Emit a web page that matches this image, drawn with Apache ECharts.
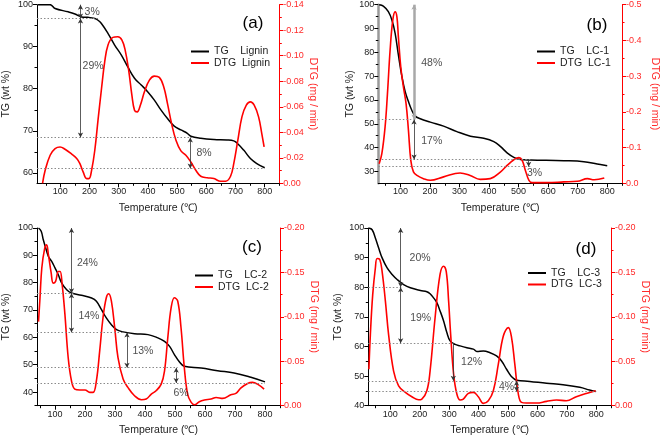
<!DOCTYPE html>
<html><head><meta charset="utf-8">
<script src="https://cdn.jsdelivr.net/npm/echarts@6/dist/echarts.min.js"></script>
<style>html,body{margin:0;padding:0;background:#fff}#c{width:661px;height:438px}</style>
</head><body><div id="c"></div>
<script>
// ---------- data ----------
const xTicks=[100,200,300,400,500,600,700,800];
const xMinor=[50,150,250,350,450,550,650,750,850];

// (a) Lignin
const aTgT=[23,65,82,127,150,173,195,218,229,240,263,286,309,331,354,377,399,422,445,467,490,513,535,547,581,626,671,694,705,728,751,773,800];
const aTg=[100,100,99.1,98.3,97.8,97.1,97.0,96.7,96.3,95.6,93.2,90.4,88.0,85.2,82.5,80.9,79.3,77.3,74.9,72.9,71.1,70.2,69.4,68.7,68.2,67.9,67.8,67.6,67.1,65.4,63.4,62.2,61.2];
const aDtgT=[39,48,65,82,99,116,139,156,167,178,190,198,207,218,229,241,252,263,280,297,311,322,334,345,354,363,374,388,405,422,439,454,467,481,496,513,530,547,564,581,603,626,649,666,683,694,708,722,737,751,764,779,790,798];
const aDtg=[0,-0.0102,-0.022,-0.0272,-0.0285,-0.0267,-0.0228,-0.0194,-0.0154,-0.0089,-0.0037,-0.0037,-0.0102,-0.0259,-0.0495,-0.0743,-0.0953,-0.1083,-0.1144,-0.1149,-0.1123,-0.1044,-0.0887,-0.0691,-0.0573,-0.056,-0.0612,-0.0717,-0.0809,-0.084,-0.083,-0.0757,-0.0625,-0.0468,-0.0338,-0.0254,-0.022,-0.0167,-0.0102,-0.0055,-0.0044,-0.0037,-0.0016,-0.0016,-0.0055,-0.0154,-0.0338,-0.0521,-0.0612,-0.0638,-0.0612,-0.0521,-0.039,-0.0285];
const aTgTicks=[60,70,80,90,100];
const aTgMinor=[65,75,85,95];
const aDots=[[96.7,230],[68.4,553],[61.0,800]];
const aArrows=[[169,100,96.7,'both'],[169,96.7,68.4,'both'],[545,68.4,61.0,'both']];
const aPcts=[['3%',209,98.3],['29%',212,85.5],['8%',592,64.6]];

// (b) LC-1
const bTgT=[28,42,59,71,82,93,105,116,127,138,150,167,201,246,291,337,382,416,439,461,484,506,540,653,721,766,800];
const bTg=[100,99.4,97.1,93.6,88,78.9,69.8,63.5,59.3,55.8,53.2,52.1,50.7,49.0,46.7,44.8,43.9,42.5,40.4,37.8,35.9,35.0,34.8,34.5,34.1,33.1,32.4];
const bDtgT=[28,37,48,56,65,74,82,88,93,101,110,119,127,135,144,156,178,201,246,302,336,370,404,439,461,484,501,512,523,535,546,597,653,699,733,756,790];
const bDtg=[-0.055,-0.083,-0.158,-0.251,-0.373,-0.457,-0.480,-0.466,-0.41,-0.326,-0.27,-0.223,-0.149,-0.064,-0.032,-0.022,-0.013,-0.0084,-0.018,-0.029,-0.022,-0.011,-0.013,-0.032,-0.050,-0.066,-0.072,-0.064,-0.036,-0.0084,-0.002,-0.002,-0.004,-0.0056,-0.013,-0.010,-0.015];
const bTgTicks=[30,40,50,60,70,80,90,100];
const bTgMinor=[35,45,55,65,75,85,95];
const bDots=[[51.8,145],[35.0,540],[32.0,540]];
const bArrows=[[146,100,51.8,'thick'],[146,51.8,35.0,'both'],[534,35.0,32.0,'down']];
const bPcts=[['48%',206,75.4],['17%',206,42.9],['3%',554,29.2]];

// (c) LC-2
const cTgT=[45,54,61,69,78,89,100,111,122,139,155,188,222,238,255,271,288,305,327,365,410,443,465,482,498,515,531,587,642,697,753,800];
const cTg=[100,98.8,95.7,92.7,89.6,87.8,85.4,82.9,79.9,77.4,76.2,75.4,74.4,73.2,70.1,67.1,64.6,62.8,62.0,61.3,61.0,59.8,58.5,56.7,53.7,51.0,49.4,48.8,47.8,47.0,45.4,43.7];
const cDtgT=[45,50,56,65,72,78,87,94,102,111,117,124,133,144,155,166,183,200,216,227,238,249,260,271,279,288,299,310,327,343,365,388,404,421,437,454,465,476,487,498,509,520,531,542,554,565,581,598,620,637,659,686,703,719,742,758,775,797];
const cDtg=[-0.0946,-0.1215,-0.155,-0.176,-0.181,-0.170,-0.150,-0.138,-0.140,-0.151,-0.151,-0.136,-0.103,-0.054,-0.028,-0.0187,-0.0176,-0.0176,-0.015,-0.015,-0.028,-0.0617,-0.099,-0.1215,-0.126,-0.1178,-0.0879,-0.054,-0.030,-0.0206,-0.0112,-0.0067,-0.0075,-0.0131,-0.0168,-0.0243,-0.039,-0.0766,-0.110,-0.1215,-0.1178,-0.088,-0.043,-0.0131,-0.0037,-0.001,-0.0045,-0.0064,-0.0075,-0.0093,-0.0082,-0.0123,-0.0138,-0.0198,-0.025,-0.0262,-0.0243,-0.0187];
const cTgTicks=[40,50,60,70,80,90,100];
const cTgMinor=[35,45,55,65,75,85,95];
const cDots=[[76.1,161],[61.8,332],[48.9,509],[43.3,800]];
const cArrows=[[155,100,76.1,'both'],[155,76.1,61.8,'both'],[340,61.8,48.9,'both'],[504,48.9,43.3,'both']];
const cPcts=[['24%',208,87.2],['14%',213,67.7],['13%',393,54.9],['6%',520,39.6]];

// (d) LC-3
const dTgT=[27,38,49,60,72,89,106,123,145,168,202,224,235,247,258,269,281,292,303,320,337,360,382,394,416,439,461,478,495,512,529,574,631,687,744,777,798];
const dTg=[100,99.4,96.6,93.3,89.9,86.5,84.3,82.6,80.9,79.8,78.9,78.5,77.8,76.4,74.8,72.0,68.6,64.7,61.9,60.7,60.2,59.6,59.1,58.3,58.5,57.9,56.8,55.1,52.3,49.8,48.6,48.2,47.6,47.1,46.2,45.3,44.8];
const dDtgT=[27,32,40,49,55,64,72,83,94,111,128,151,173,196,207,224,235,252,269,281,290,298,305,315,326,337,348,365,382,399,416,433,450,467,484,501,512,523,535,546,563,597,631,665,698,732,766,798];
const dDtg=[-0.0411,-0.080,-0.125,-0.155,-0.1656,-0.1645,-0.151,-0.118,-0.080,-0.039,-0.0224,-0.015,-0.0101,-0.0067,-0.0075,-0.0168,-0.039,-0.099,-0.148,-0.157,-0.151,-0.118,-0.080,-0.0355,-0.0131,-0.0064,-0.0075,-0.0138,-0.015,-0.0101,-0.0026,-0.0056,-0.0168,-0.0467,-0.0785,-0.0879,-0.0766,-0.0467,-0.0131,-0.0037,-0.003,-0.003,-0.0049,-0.0064,-0.0056,-0.0101,-0.0138,-0.0168];
const dTgTicks=[40,50,60,70,80,90,100];
const dTgMinor=[45,55,65,75,85,95];
const dDots=[[80.0,138],[61.1,314],[48.4,529],[44.8,800]];
const dArrows=[[135,100,80.0,'both'],[135,80.0,61.1,'both'],[314,61.1,48.4,'down'],[529,48.4,44.8,'both']];
const dPcts=[['20%',201,89.7],['19%',203,69.7],['12%',376,54.6],['4%',495,46.4]];

// ---------- layout ----------
const FONT='Liberation Sans, Arial, sans-serif';
const RED='#ff0000';
const panels=[
 {tgT:aTgT,tg:aTg,dT:aDtgT,dtg:aDtg,tgTicks:aTgTicks,tgMinor:aTgMinor,dots:aDots,arrows:aArrows,pcts:aPcts,
  grid:{left:36.7,top:4.7,width:242.6,height:178.6},xr:[20,850],tgr:[57.5,100],dmin:-0.14,dint:0.02,ddec:2,
  tgName:'TG    Lignin',dtgName:'DTG  Lignin',letter:'(a)',lx:253,ly:23.3,legL:191,legT:46,tgGap:25,axisGray:false},
 {tgT:bTgT,tg:bTg,dT:bDtgT,dtg:bDtg,tgTicks:bTgTicks,tgMinor:bTgMinor,dots:bDots,arrows:bArrows,pcts:bPcts,
  grid:{left:378.3,top:4.7,width:244,height:178.6},xr:[25,850],tgr:[25,100],dmin:-0.5,dint:0.1,ddec:1,
  tgName:'TG    LC-1',dtgName:'DTG  LC-1',letter:'(b)',lx:597,ly:25,legL:537,legT:46,tgGap:23,axisGray:true},
 {tgT:cTgT,tg:cTg,dT:cDtgT,dtg:cDtg,tgTicks:cTgTicks,tgMinor:cTgMinor,dots:cDots,arrows:cArrows,pcts:cPcts,
  grid:{left:35.7,top:228,width:244.3,height:177.7},xr:[40,850],tgr:[35,100],dmin:-0.2,dint:0.05,ddec:2,
  tgName:'TG    LC-2',dtgName:'DTG  LC-2',letter:'(c)',lx:252,ly:247,legL:195,legT:270,tgGap:25,axisGray:false},
 {tgT:dTgT,tg:dTg,dT:dDtgT,dtg:dDtg,tgTicks:dTgTicks,tgMinor:dTgMinor,dots:dDots,arrows:dArrows,pcts:dPcts,
  grid:{left:368.3,top:228,width:242.7,height:177.7},xr:[25,850],tgr:[40,100],dmin:-0.2,dint:0.05,ddec:2,
  tgName:'TG    LC-3',dtgName:'DTG  LC-3',letter:'(d)',lx:586,ly:249.7,legL:528,legT:267.5,tgGap:25,axisGray:false}
];

const grid=[],xAxis=[],yAxis=[],series=[],legend=[],graphic=[];
panels.forEach((p,i)=>{
  grid.push(Object.assign({containLabel:false},p.grid));
  xAxis.push({type:'value',gridIndex:i,position:'bottom',min:p.xr[0],max:p.xr[1],
    axisLine:{show:true,onZero:false,lineStyle:{color:'#000',width:1}},
    axisTick:{show:true,customValues:xTicks,length:4,lineStyle:{color:'#000'}},
    axisLabel:{customValues:xTicks,fontSize:9,color:'#222',margin:4,fontFamily:FONT},
    splitLine:{show:false},name:'Temperature (\u2103)',nameLocation:'middle',nameGap:19,
    nameTextStyle:{fontSize:10.5,color:'#222',fontFamily:FONT}});
  xAxis.push({type:'value',gridIndex:i,position:'bottom',min:p.xr[0],max:p.xr[1],
    axisLine:{show:false},axisTick:{show:true,customValues:xMinor,length:2.5,lineStyle:{color:'#000'}},
    axisLabel:{show:false},splitLine:{show:false}});
  const xMain=i*2;
  const tgIdx=yAxis.length;
  const axCol=p.axisGray?'#999':'#000';
  yAxis.push({type:'value',gridIndex:i,position:'left',min:p.tgr[0],max:p.tgr[1],
    axisLine:{show:true,onZero:false,lineStyle:{color:axCol,width:p.axisGray?2.5:1}},
    axisTick:{show:true,customValues:p.tgTicks,length:4,lineStyle:{color:'#000'}},
    axisLabel:{customValues:p.tgTicks,fontSize:9,color:'#222',margin:4,fontFamily:FONT},
    splitLine:{show:false},name:'TG (wt %)',nameLocation:'middle',nameGap:p.tgGap,nameRotate:90,
    nameTextStyle:{fontSize:10.5,color:'#222',fontFamily:FONT}});
  const dIdx=yAxis.length;
  const dec=p.ddec;
  yAxis.push({type:'value',gridIndex:i,position:'right',min:p.dmin,max:0,interval:p.dint,inverse:true,
    axisLine:{show:true,onZero:false,lineStyle:{color:RED,width:1}},
    axisTick:{show:true,length:4,lineStyle:{color:RED}},
    minorTick:{show:true,splitNumber:2,length:2.5,lineStyle:{color:RED}},
    axisLabel:{fontSize:9,color:'#ff2a2a',margin:4,fontFamily:FONT,
      formatter:function(v){const a=Math.abs(Number(v));return a<1e-9?(0).toFixed(dec):'-'+a.toFixed(dec);}},
    splitLine:{show:false},minorSplitLine:{show:false},
    name:'DTG (mg / min)',nameLocation:'middle',nameGap:27,nameRotate:-90,
    nameTextStyle:{fontSize:10.5,color:'#ff2a2a',fontFamily:FONT}});
  yAxis.push({type:'value',gridIndex:i,position:'left',min:p.tgr[0],max:p.tgr[1],
    axisLine:{show:false},axisTick:{show:true,customValues:p.tgMinor,length:2.5,lineStyle:{color:'#000'}},
    axisLabel:{show:false},splitLine:{show:false}});

  const mlData=[];
  p.dots.forEach(d=>mlData.push([{coord:[p.xr[0],d[0]],lineStyle:{type:[1.5,2],color:'#8a8a8a',width:1},symbol:'none'},{coord:[d[1],d[0]],symbol:'none'}]));
  p.arrows.forEach(a=>{
    const thick=a[3]==='thick';
    const s0=a[3]==='down'?'none':'arrow', s1='arrow';
    mlData.push([{coord:[a[0],a[1]],symbol:s0,symbolSize:[4,5],lineStyle:{type:'solid',color:thick?'#a8a8a8':'#333',width:thick?2.5:0.8}},
                 {coord:[a[0],a[2]],symbol:s1,symbolSize:[4,5]}]);
  });
  series.push({type:'line',name:p.tgName,xAxisIndex:xMain,yAxisIndex:tgIdx,data:p.tgT.map((t,k)=>[t,p.tg[k]]),
    showSymbol:false,symbol:'none',smooth:0.4,lineStyle:{color:'#000',width:1.5},itemStyle:{color:'#000'},z:3,
    markLine:{silent:true,animation:false,label:{show:false},emphasis:{disabled:true},symbol:['none','none'],
      itemStyle:{color:'#333'},data:mlData}});
  series.push({type:'line',name:p.dtgName,xAxisIndex:xMain,yAxisIndex:dIdx,data:p.dT.map((t,k)=>[t,p.dtg[k]]),
    showSymbol:false,symbol:'none',smooth:0.4,lineStyle:{color:RED,width:1.6},itemStyle:{color:RED},z:4});
  series.push({type:'scatter',name:'pct'+i,xAxisIndex:xMain,yAxisIndex:tgIdx,symbolSize:0,silent:true,z:5,
    data:p.pcts.map(q=>({name:q[0],value:[q[1],q[2]]})),
    label:{show:true,position:'inside',formatter:'{b}',fontSize:10.5,color:'#222',fontFamily:FONT}});
  legend.push({orient:'vertical',left:p.legL,top:p.legT,padding:0,itemGap:0.5,itemWidth:18,itemHeight:2,
    icon:'rect',data:[p.tgName,p.dtgName],selectedMode:false,
    textStyle:{fontSize:10.5,color:'#222',fontFamily:FONT,lineHeight:11}});
  graphic.push({type:'text',x:p.lx,y:p.ly,style:{text:p.letter,font:'17px '+FONT,fill:'#000',
    align:'center',verticalAlign:'middle',textAlign:'center',textVerticalAlign:'middle'}});
});

const chart=echarts.init(document.getElementById('c'),null,{renderer:'canvas'});
chart.setOption({animation:false,backgroundColor:'#fff',grid,xAxis,yAxis,series,legend,graphic});
</script></body></html>
